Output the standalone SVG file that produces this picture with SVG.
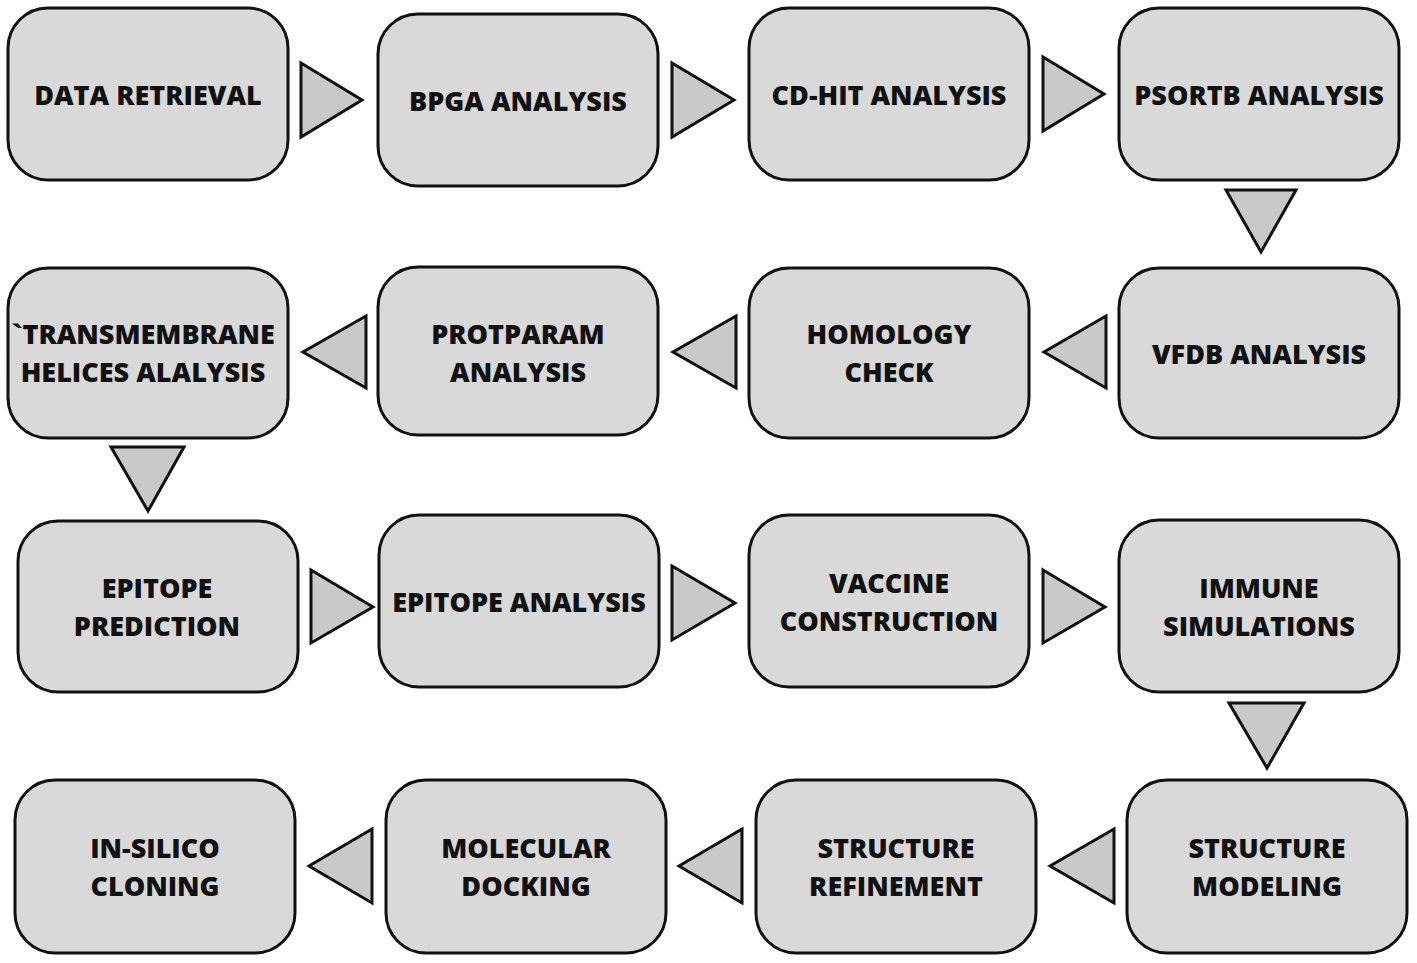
<svg xmlns="http://www.w3.org/2000/svg" width="1417" height="963" viewBox="0 0 1417 963">
<style>
.box{fill:#d9d9d9;stroke:#111;stroke-width:3}
.arr{fill:#c9c9c9;stroke:#111;stroke-width:3;stroke-linejoin:miter}
text{font-family:"Open Sans","Liberation Sans",sans-serif;font-weight:800;font-size:27px;fill:#111;text-anchor:middle;dominant-baseline:central}
</style>
<rect width="1417" height="963" fill="#fff"/>
<g id="connectors">
<polygon class="arr" points="301,63 362,100 301,137"/>
<polygon class="arr" points="672,63 734,100 672,137"/>
<polygon class="arr" points="1043,57 1104,94 1043,131"/>
<polygon class="arr" points="1226,190 1296,190 1261,252"/>
<polygon class="arr" points="366,316 303,352 366,388"/>
<polygon class="arr" points="736,316 673,352 736,388"/>
<polygon class="arr" points="1106,316 1044,352 1106,388"/>
<polygon class="arr" points="111,447 184,447 148,511"/>
<polygon class="arr" points="311,570 373,607 311,643"/>
<polygon class="arr" points="672,566 735,603 672,640"/>
<polygon class="arr" points="1043,570 1105,607 1043,643"/>
<polygon class="arr" points="1229,703 1304,703 1267,768"/>
<polygon class="arr" points="1114,829 1050,866 1114,903"/>
<polygon class="arr" points="742,829 679,866 742,903"/>
<polygon class="arr" points="372,829 309,866 372,903"/>
</g>
<g id="n1"><rect class="box" x="8" y="8" width="280" height="172" rx="40"/><text x="148" y="94">DATA RETRIEVAL</text></g>
<g id="n2"><rect class="box" x="378" y="14" width="280" height="172" rx="40"/><text x="518" y="100">BPGA ANALYSIS</text></g>
<g id="n3"><rect class="box" x="749" y="8" width="280" height="172" rx="40"/><text x="889" y="94">CD-HIT ANALYSIS</text></g>
<g id="n4"><rect class="box" x="1119" y="8" width="280" height="172" rx="40"/><text x="1259" y="94">PSORTB ANALYSIS</text></g>
<g id="n5"><rect class="box" x="1119" y="268" width="280" height="170" rx="40"/><text x="1259" y="353">VFDB ANALYSIS</text></g>
<g id="n6"><rect class="box" x="749" y="268" width="280" height="170" rx="40"/><text x="889" y="333">HOMOLOGY</text><text x="889" y="371">CHECK</text></g>
<g id="n7"><rect class="box" x="378" y="267" width="280" height="168" rx="40"/><text x="518" y="333">PROTPARAM</text><text x="518" y="371">ANALYSIS</text></g>
<g id="n8"><rect class="box" x="8" y="268" width="280" height="170" rx="40"/><text x="143" y="333">`TRANSMEMBRANE</text><text x="143" y="371">HELICES ALALYSIS</text></g>
<g id="n9"><rect class="box" x="18" y="521" width="280" height="171" rx="40"/><text x="157" y="587">EPITOPE</text><text x="157" y="625">PREDICTION</text></g>
<g id="n10"><rect class="box" x="379" y="515" width="280" height="172" rx="40"/><text x="519" y="601">EPITOPE ANALYSIS</text></g>
<g id="n11"><rect class="box" x="749" y="515" width="280" height="172" rx="40"/><text x="889" y="582">VACCINE</text><text x="889" y="620">CONSTRUCTION</text></g>
<g id="n12"><rect class="box" x="1119" y="520" width="280" height="172" rx="40"/><text x="1259" y="587">IMMUNE</text><text x="1259" y="625">SIMULATIONS</text></g>
<g id="n13"><rect class="box" x="1127" y="780" width="280" height="173" rx="40"/><text x="1267" y="847">STRUCTURE</text><text x="1267" y="885">MODELING</text></g>
<g id="n14"><rect class="box" x="756" y="780" width="280" height="173" rx="40"/><text x="896" y="847">STRUCTURE</text><text x="896" y="885">REFINEMENT</text></g>
<g id="n15"><rect class="box" x="386" y="780" width="280" height="173" rx="40"/><text x="526" y="847">MOLECULAR</text><text x="526" y="885">DOCKING</text></g>
<g id="n16"><rect class="box" x="15" y="780" width="280" height="173" rx="40"/><text x="155" y="847">IN-SILICO</text><text x="155" y="885">CLONING</text></g>
</svg>
